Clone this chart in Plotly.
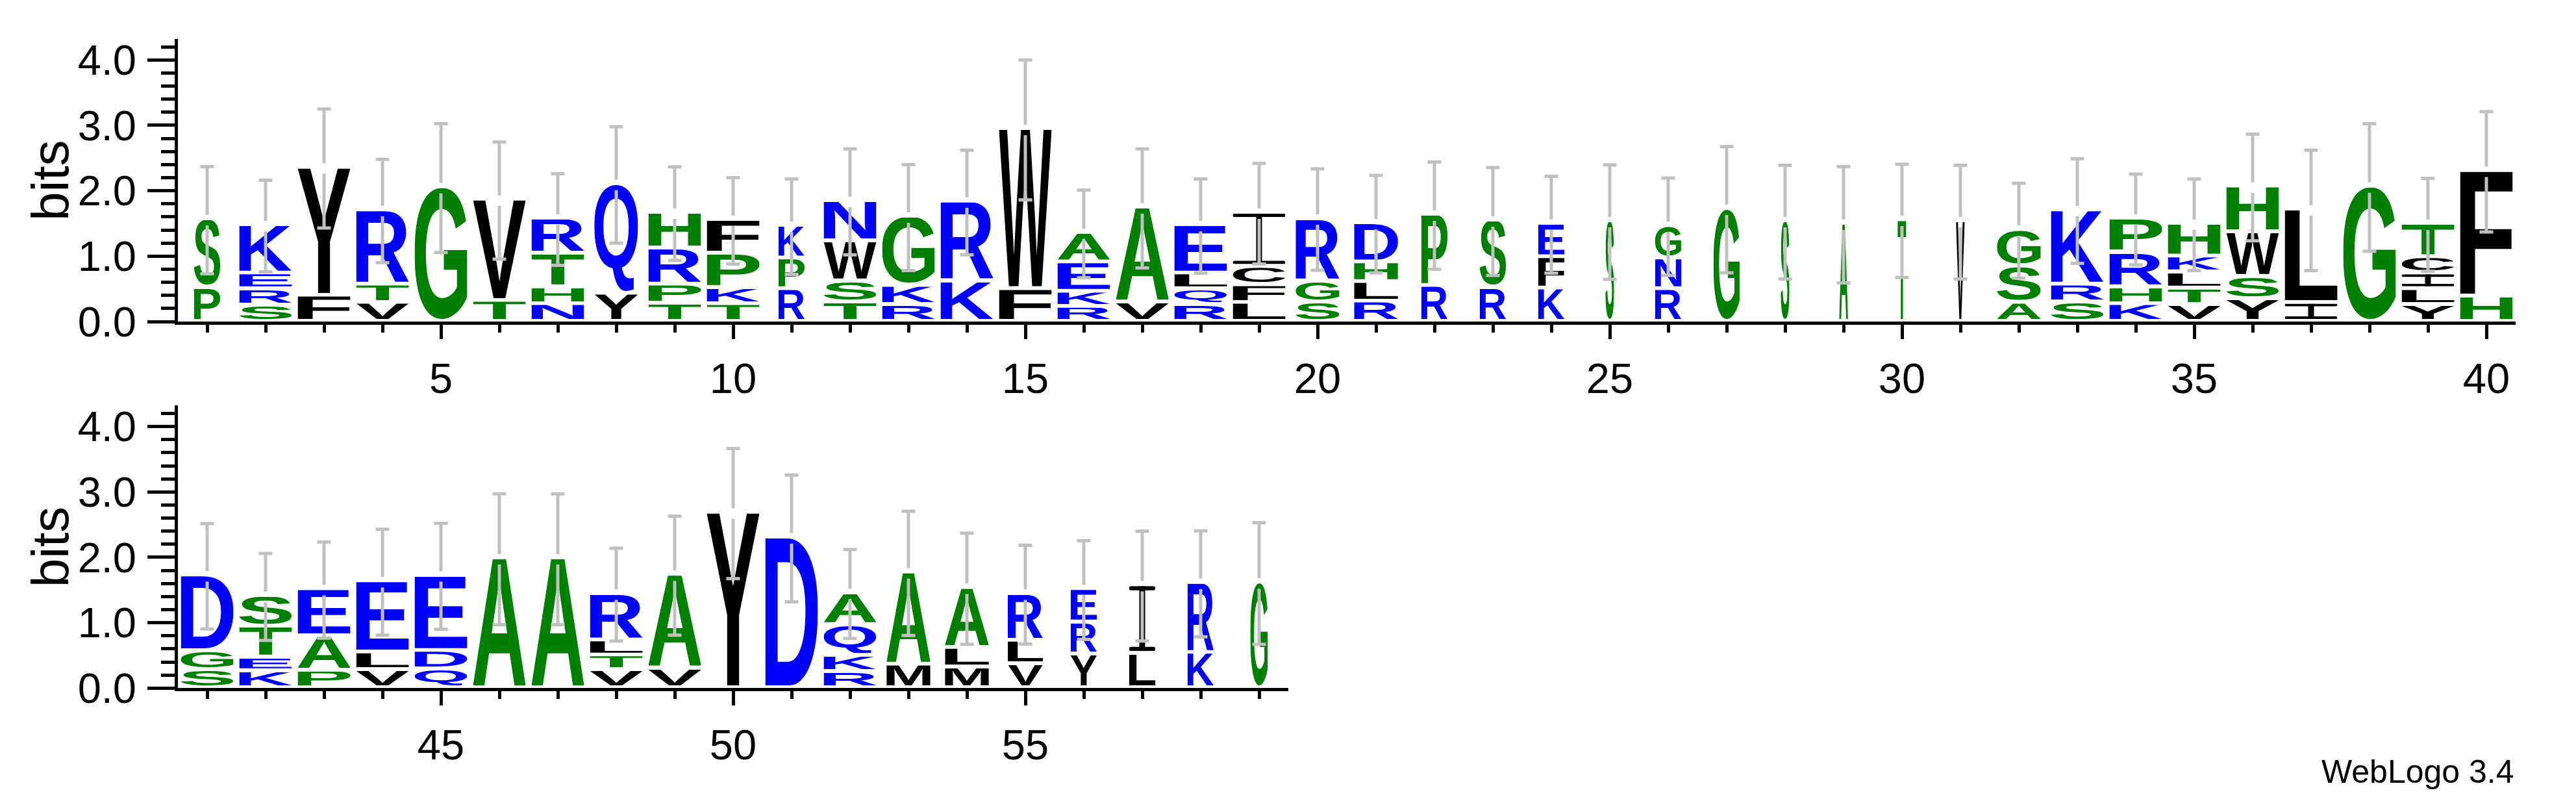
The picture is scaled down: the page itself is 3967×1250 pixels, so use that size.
import base64
import glob
import math
import struct

import plotly.graph_objects as go

# ---------------------------------------------------------------- data
positions = list(range(1, 60))

# letters of each stack, bottom -> top
stack_letters = [
    "PS", "SREK", "FY", "VTR", "G", "TV", "NHTR", "YQ", "TPRH", "TKPF",
    "RPK", "TSWN", "RKG", "KR", "FW", "RKEA", "VA", "RQLE", "LFCI", "SGR",
    "RLHD", "RP", "RS", "KFE", "S", "RNG", "G", "S", "A", "T",
    "V", "ASG", "SRK", "KHRP", "VTLKH", "YSWH", "IL", "G", "YLICT", "HF",
    "SGD", "KETS", "PAE", "VLE", "QDE", "A", "A", "VTLR", "VA", "Y",
    "D", "RKQA", "MA", "MLA", "VLR", "YRE", "LI", "KR", "G",
]

# height (bits) of each letter, bottom -> top
stack_heights = [
    [0.53, 1.02], [0.26, 0.25, 0.24, 0.71], [0.41, 1.93], [0.30, 0.28, 1.11], [2.04],
    [0.33, 1.52], [0.28, 0.26, 0.51, 0.51], [0.44, 1.65], [0.29, 0.29, 0.55, 0.52],
    [0.28, 0.25, 0.52, 0.49],
    [0.51, 0.47, 0.47], [0.31, 0.32, 0.61, 0.59], [0.27, 0.29, 1.03], [0.63, 1.19],
    [0.51, 2.42], [0.24, 0.23, 0.45, 0.42], [0.31, 1.42], [0.27, 0.24, 0.24, 0.71],
    [0.30, 0.27, 0.28, 0.80], [0.31, 0.32, 0.93],
    [0.32, 0.30, 0.30, 0.57], [0.56, 1.06], [0.53, 1.00], [0.52, 0.48, 0.48], [1.52],
    [0.51, 0.47, 0.47], [1.71], [1.52], [1.48], [1.54],
    [1.52], [0.30, 0.56, 0.53], [0.31, 0.27, 1.11], [0.28, 0.26, 0.53, 0.49],
    [0.27, 0.25, 0.25, 0.24, 0.47], [0.36, 0.34, 0.68, 0.67], [0.30, 1.40], [2.05],
    [0.27, 0.24, 0.24, 0.25, 0.48], [0.40, 1.89],
    [0.29, 0.29, 1.13], [0.275, 0.21, 0.47, 0.44], [0.28, 0.53, 0.69], [0.29, 0.27, 1.06],
    [0.30, 0.285, 1.125], [1.97], [1.97], [0.29, 0.225, 0.23, 0.685], [0.31, 1.41], [2.67],
    [2.29], [0.26, 0.25, 0.47, 0.46], [0.375, 1.38], [0.33, 0.30, 0.89], [0.38, 0.36, 0.69],
    [0.53, 0.49, 0.48], [0.54, 1.02], [0.555, 1.04], [1.60],
]

# fraction of sequences without a gap (scales stack width)
stack_width = [
    0.5, 1, 1, 1, 1, 1, 1, 5 / 6, 1, 1,
    0.5, 1, 1, 1, 1, 1, 1, 1, 1, 5 / 6,
    5 / 6, 0.5, 0.5, 0.5, 1 / 6, 0.5, 0.5, 1 / 6, 1 / 6, 1 / 6,
    1 / 6, 5 / 6, 1, 1, 1, 1, 1, 1, 1, 1,
    1, 1, 1, 1, 1, 1, 1, 1, 1, 1,
    1, 1, 5 / 6, 5 / 6, 4 / 6, 0.5, 0.5, 0.5, 2 / 6,
]

# half length of the error bar (bits)
error_bits = [
    0.82, 0.70, 0.91, 0.79, 0.985, 0.895, 0.70, 0.89, 0.715, 0.66,
    0.73, 0.81, 0.81, 0.80, 1.07, 0.67, 0.91, 0.72, 0.77, 0.775,
    0.745, 0.82, 0.825, 0.74, 0.875, 0.745, 0.965, 0.87, 0.89, 0.865,
    0.87, 0.725, 0.80, 0.695, 0.70, 0.815, 0.92, 0.975, 0.71, 0.92,
    0.805, 0.665, 0.735, 0.81, 0.81, 1.0, 1.0, 0.71, 0.91, 0.995,
    0.97, 0.68, 0.95, 0.85, 0.755, 0.755, 0.84, 0.81, 0.93,
]

x_ticks_major = 5
y_tick_values = [0, 1, 2, 3, 4]

# ---------------------------------------------------------------- style
W, H = 3967, 1250
PX_POS = 90.0     # pixels per position
PX_BIT = 104.0    # pixels per bit
YMAX = math.log2(20)
LETTER_W = 0.9
GAP = 0.028
ERR_GAP = 0.08
CAP_HALF = 0.117
FONT = "Liberation Sans, Arial, Helvetica, sans-serif"

COLORS = {}
for c in "RKDENQ":
    COLORS[c] = "#0000FF"
for c in "SGHTAP":
    COLORS[c] = "#008000"
for c in "YVMCLFIW":
    COLORS[c] = "#000000"

# Helvetica-Bold ink boxes (fallback), units of 1/1000 em
AFM_BBOX = {
    "A": (20, 0, 702, 718), "C": (44, -19, 684, 737), "D": (76, 0, 685, 718),
    "E": (76, 0, 621, 718), "F": (76, 0, 587, 718), "G": (44, -19, 713, 737),
    "H": (71, 0, 651, 718), "I": (64, 0, 214, 718), "K": (87, 0, 722, 718),
    "L": (76, 0, 583, 718), "M": (69, 0, 765, 718), "N": (69, 0, 654, 718),
    "P": (76, 0, 627, 718), "Q": (44, -52, 737, 737), "R": (76, 0, 677, 718),
    "S": (39, -19, 629, 737), "T": (14, 0, 598, 718), "V": (17, 0, 650, 718),
    "W": (21, 0, 928, 718), "Y": (15, 0, 653, 718),
}


def font_bboxes(chars):
    files = glob.glob("/usr/share/fonts/**/LiberationSans-Bold.ttf", recursive=True)
    if not files:
        return None
    data = open(files[0], "rb").read()
    ntab = struct.unpack(">H", data[4:6])[0]
    tables = {}
    for i in range(ntab):
        tag, _, off, ln = struct.unpack(">4sIII", data[12 + 16 * i:28 + 16 * i])
        tables[tag.decode("latin1")] = off
    head = tables["head"]
    upem = struct.unpack(">H", data[head + 18:head + 20])[0]
    locfmt = struct.unpack(">h", data[head + 50:head + 52])[0]
    cm = tables["cmap"]
    nsub = struct.unpack(">H", data[cm + 2:cm + 4])[0]
    sub = None
    for i in range(nsub):
        pid, eid, off = struct.unpack(">HHI", data[cm + 4 + 8 * i:cm + 12 + 8 * i])
        fmt = struct.unpack(">H", data[cm + off:cm + off + 2])[0]
        if fmt == 4 and (pid == 0 or (pid == 3 and eid == 1)):
            sub = cm + off
            break
    segx2 = struct.unpack(">H", data[sub + 6:sub + 8])[0]
    nseg = segx2 // 2
    ends = struct.unpack(">%dH" % nseg, data[sub + 14:sub + 14 + segx2])
    starts = struct.unpack(">%dH" % nseg, data[sub + 16 + segx2:sub + 16 + 2 * segx2])
    deltas = struct.unpack(">%dh" % nseg, data[sub + 16 + 2 * segx2:sub + 16 + 3 * segx2])
    ro_pos = sub + 16 + 3 * segx2
    ros = struct.unpack(">%dH" % nseg, data[ro_pos:ro_pos + segx2])

    def gid(ch):
        c = ord(ch)
        for i in range(nseg):
            if ends[i] >= c:
                if starts[i] > c:
                    return 0
                if ros[i] == 0:
                    return (c + deltas[i]) & 0xFFFF
                addr = ro_pos + 2 * i + ros[i] + 2 * (c - starts[i])
                g = struct.unpack(">H", data[addr:addr + 2])[0]
                return (g + deltas[i]) & 0xFFFF if g else 0
        return 0

    loca, glyf = tables["loca"], tables["glyf"]

    def goff(g):
        if locfmt == 0:
            return 2 * struct.unpack(">H", data[loca + 2 * g:loca + 2 * g + 2])[0]
        return struct.unpack(">I", data[loca + 4 * g:loca + 4 * g + 4])[0]

    out = {}
    for ch in chars:
        o = glyf + goff(gid(ch))
        _, xmin, ymin, xmax, ymax = struct.unpack(">hhhhh", data[o:o + 10])
        s = 1000.0 / upem
        out[ch] = (xmin * s, ymin * s, xmax * s, ymax * s)
    return out


try:
    BBOX = font_bboxes("".join(sorted(AFM_BBOX))) or AFM_BBOX
except Exception:
    BBOX = AFM_BBOX


def letter_uri(ch, w_px, h_px):
    col = COLORS[ch]
    if ch == "I":
        w = max(w_px, 1.0)
        h = max(h_px, 1.0)
        t = max(4.0, 0.065 * h)
        s = min(9.0, w)
        body = (
            f'<rect x="0" y="0" width="{w:.2f}" height="{t:.2f}" rx="{t/2:.2f}" fill="{col}"/>'
            f'<rect x="0" y="{h - t:.2f}" width="{w:.2f}" height="{t:.2f}" rx="{t/2:.2f}" fill="{col}"/>'
            f'<rect x="{(w - s) / 2:.2f}" y="0" width="{s:.2f}" height="{h:.2f}" fill="{col}"/>'
        )
        svg = (f'<svg xmlns="http://www.w3.org/2000/svg" width="{w:.2f}" height="{h:.2f}" '
               f'viewBox="0 0 {w:.2f} {h:.2f}" preserveAspectRatio="none">{body}</svg>')
    else:
        x0, y0, x1, y1 = BBOX[ch]
        bw, bh = x1 - x0, y1 - y0
        svg = (f'<svg xmlns="http://www.w3.org/2000/svg" width="{bw:.1f}" height="{bh:.1f}" '
               f'viewBox="{x0:.1f} {-y1:.1f} {bw:.1f} {bh:.1f}" preserveAspectRatio="none">'
               f'<text x="0" y="0" font-family="{FONT}" font-weight="bold" font-size="1000" '
               f'fill="{col}">{ch}</text></svg>')
    return "data:image/svg+xml;base64," + base64.b64encode(svg.encode()).decode()


# ---------------------------------------------------------------- figure
fig = go.Figure()
images = []
err_xy = {0: ([], []), 1: ([], [])}

for i, pos in enumerate(positions):
    row = 0 if pos <= 40 else 1
    xr, yr = ("x", "y") if row == 0 else ("x2", "y2")
    letters = stack_letters[i]
    heights = stack_heights[i]
    wdata = LETTER_W * stack_width[i]
    base = 0.0
    for j, (ch, h) in enumerate(zip(letters, heights)):
        b = base + (0.04 if j == 0 else GAP)
        t = base + h - (0.0 if j == len(letters) - 1 else GAP)
        base += h
        images.append(dict(
            source=letter_uri(ch, wdata * PX_POS, (t - b) * PX_BIT),
            xref=xr, yref=yr, x=pos, y=b, sizex=wdata, sizey=t - b,
            xanchor="center", yanchor="bottom", sizing="stretch", layer="below",
        ))
    top = sum(heights)
    e = error_bits[i]
    ex, ey = err_xy[row]
    ex += [pos, pos, None, pos, pos, None,
           pos - CAP_HALF, pos + CAP_HALF, None, pos - CAP_HALF, pos + CAP_HALF, None]
    ey += [top + ERR_GAP, top + e, None, top - ERR_GAP, top - e, None,
           top + e, top + e, None, top - e, top - e, None]

for row, (xa, ya) in enumerate([("x", "y"), ("x2", "y2")]):
    ex, ey = err_xy[row]
    fig.add_trace(go.Scatter(x=ex, y=ey, xaxis=xa, yaxis=ya, mode="lines",
                             line=dict(color="#C0C0C0", width=5),
                             hoverinfo="skip", showlegend=False))

tickfont = dict(family=FONT, size=65, color="black")


def xaxis_cfg(domain, rng, anchor):
    return dict(
        domain=domain, range=rng, anchor=anchor, showgrid=False, zeroline=False,
        showline=True, linewidth=5, linecolor="black",
        tickmode="linear", tick0=0, dtick=x_ticks_major,
        ticks="outside", ticklen=22, tickwidth=5, tickcolor="black",
        tickfont=tickfont, ticklabelstandoff=5,
        minor=dict(tick0=0, dtick=1, ticks="outside", ticklen=12, tickwidth=5,
                   tickcolor="black", showgrid=False),
    )


def yaxis_cfg(domain, anchor):
    return dict(
        domain=domain, range=[0, YMAX], anchor=anchor, showgrid=False, zeroline=False,
        showline=True, linewidth=5, linecolor="black",
        tickmode="array", tickvals=y_tick_values,
        ticktext=[f"{v:.1f}" for v in y_tick_values],
        ticks="outside", ticklen=42, tickwidth=5, tickcolor="black",
        tickfont=tickfont, ticklabelstandoff=4,
        minor=dict(tick0=0, dtick=0.2, ticks="outside", ticklen=21, tickwidth=5,
                   tickcolor="black", showgrid=False),
    )


left = 266 / W
row1_y0 = 1 - 500 / H
row1_y1 = row1_y0 + YMAX * PX_BIT / H
row2_y0 = 1 - 1083 / H
row2_y1 = row2_y0 + YMAX * PX_BIT / H

fig.update_layout(
    width=W, height=H, margin=dict(l=0, r=0, t=0, b=0),
    paper_bgcolor="white", plot_bgcolor="white", showlegend=False,
    font=dict(family=FONT, color="black"),
    xaxis=xaxis_cfg([left, left + 40 * PX_POS / W], [0.5, 40.5], "y"),
    yaxis=yaxis_cfg([row1_y0, row1_y1], "x"),
    xaxis2=xaxis_cfg([left, left + 19 * PX_POS / W], [40.5, 59.5], "y2"),
    yaxis2=yaxis_cfg([row2_y0, row2_y1], "x2"),
    images=images,
    annotations=[
        dict(text="bits", xref="paper", yref="paper", x=69.5 / W,
             y=(row1_y0 + row1_y1) / 2, textangle=-90, showarrow=False,
             xanchor="center", yanchor="middle", font=dict(family=FONT, size=80)),
        dict(text="bits", xref="paper", yref="paper", x=69.5 / W,
             y=(row2_y0 + row2_y1) / 2, textangle=-90, showarrow=False,
             xanchor="center", yanchor="middle", font=dict(family=FONT, size=80)),
        dict(text="WebLogo 3.4", xref="paper", yref="paper", x=3866 / W,
             y=1 - 1216 / H, showarrow=False, xanchor="right", yanchor="middle",
             font=dict(family=FONT, size=50)),
    ],
)

fig.write_html("out.html")
